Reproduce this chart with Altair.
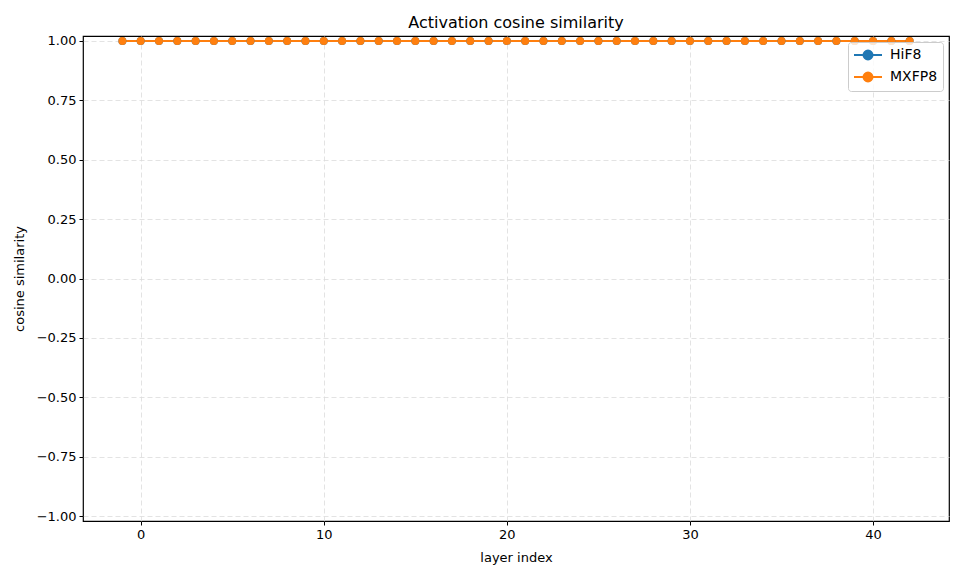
import altair as alt
import pandas as pd

layers = [-1, 0, 1, 2, 3, 4, 5, 6, 7, 8, 9, 10, 11, 12, 13, 14, 15, 16, 17, 18, 19, 20,
          21, 22, 23, 24, 25, 26, 27, 28, 29, 30, 31, 32, 33, 34, 35, 36, 37, 38, 39, 40, 41, 42]
hif8 = [1.0, 1.0, 1.0, 1.0, 1.0, 1.0, 1.0, 1.0, 1.0, 1.0, 1.0, 1.0, 1.0, 1.0, 1.0, 1.0,
        1.0, 1.0, 1.0, 1.0, 1.0, 1.0, 1.0, 1.0, 1.0, 1.0, 1.0, 1.0, 1.0, 1.0, 1.0, 1.0,
        1.0, 1.0, 1.0, 1.0, 1.0, 1.0, 1.0, 1.0, 1.0, 1.0, 1.0, 1.0]
mxfp8 = [1.0, 1.0, 1.0, 1.0, 1.0, 1.0, 1.0, 1.0, 1.0, 1.0, 1.0, 1.0, 1.0, 1.0, 1.0, 1.0,
         1.0, 1.0, 1.0, 1.0, 1.0, 1.0, 1.0, 1.0, 1.0, 1.0, 1.0, 1.0, 1.0, 1.0, 1.0, 1.0,
         1.0, 1.0, 1.0, 1.0, 1.0, 1.0, 1.0, 1.0, 1.0, 1.0, 1.0, 1.0]
series_names = ["HiF8", "MXFP8"]
series_colors = ["#1f77b4", "#ff7f0e"]
x_ticks = [0, 10, 20, 30, 40]
y_ticks = [-1.0, -0.75, -0.5, -0.25, 0.0, 0.25, 0.5, 0.75, 1.0]

rows = []
for i, (name, vals) in enumerate(zip(series_names, [hif8, mxfp8])):
    for x, y in zip(layers, vals):
        rows.append({"layer": x, "cos": y, "format": name, "order": i})
df = pd.DataFrame(rows)

font = "DejaVu Sans"
legend_symbol = "M-1,0L3,0M0.36,0A0.64,0.64,0,1,1,1.64,0A0.64,0.64,0,1,1,0.36,0Z"
color = alt.Color(
    "format:N",
    scale=alt.Scale(domain=series_names, range=series_colors),
    legend=alt.Legend(
        title=None, orient="top-right", offset=6,
        symbolType=legend_symbol,
        symbolSize=196, symbolStrokeWidth=2,
        labelFont=font, labelFontSize=14, labelColor="#000",
        strokeColor="#cccccc", fillColor="rgba(255,255,255,0.8)",
        cornerRadius=3, padding=5, rowPadding=4, labelOffset=21,
    ),
)

x = alt.X("layer:Q", scale=alt.Scale(domain=[-3.15, 44.15], nice=False, zero=False),
          axis=alt.Axis(title="layer index", values=x_ticks, format="d"))
y = alt.Y("cos:Q", scale=alt.Scale(domain=[-1.021, 1.021], nice=False, zero=False),
          axis=alt.Axis(title="cosine similarity", values=y_ticks, format=".2f",
                        labelExpr="replace(datum.label, '-', '\u2212')"))

base = alt.Chart(df)
lines = base.mark_line(strokeWidth=2).encode(x=x, y=y, color=color, detail="format:N", order="layer:Q")
points = base.mark_point(filled=True, size=64, opacity=1).encode(x=x, y=y, color=color)

chart = alt.layer(lines, points).properties(
    width=866, height=485,
    title=alt.TitleParams("Activation cosine similarity", font=font, fontSize=16,
                          fontWeight="normal", color="#000", anchor="middle", offset=4),
    autosize=alt.AutoSizeParams(type="none"),
    padding={"left": 75, "top": 28, "right": 7, "bottom": 50},
).configure_view(stroke="#000", strokeWidth=1.2).configure_axis(
    labelFont=font, labelFontSize=13, labelColor="#000",
    titleFont=font, titleFontSize=13, titleFontWeight="normal", titleColor="#000",
    domain=False, tickColor="#000", tickSize=4, tickWidth=1, labelPadding=3,
    grid=True, gridColor="#dcdcdc", gridDash=[5, 3], gridWidth=0.8,
).configure_axisY(titlePadding=10).configure_axisX(titlePadding=10)

chart.save("out.html", embed_options={"renderer": "svg", "actions": False})
